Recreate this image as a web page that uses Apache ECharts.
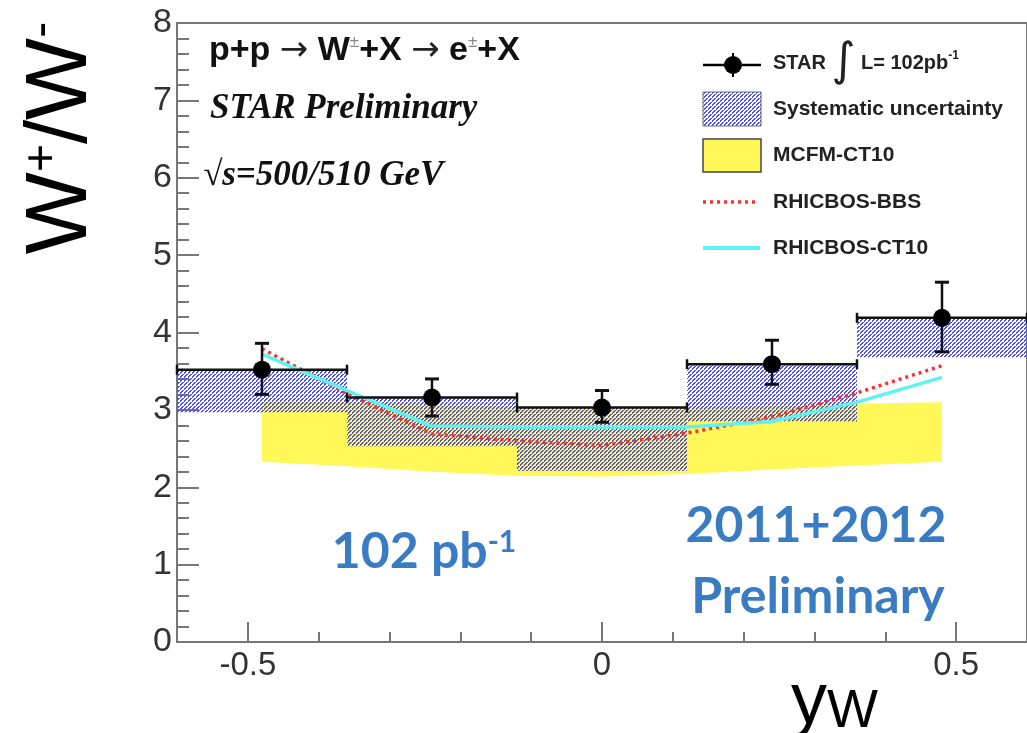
<!DOCTYPE html>
<html><head><meta charset="utf-8">
<script src="https://cdn.jsdelivr.net/npm/echarts@6/dist/echarts.min.js"></script>
<style>html,body{margin:0;padding:0;background:#fff}#c{width:1027px;height:733px}</style>
</head><body><div id="c"></div>
<script>
// ---- data ----
const binLow = [-0.6, -0.36, -0.12, 0.12, 0.36];
const binHigh = [-0.36, -0.12, 0.12, 0.36, 0.6];
const binCenter = [-0.48, -0.24, 0, 0.24, 0.48];
const ratio = [3.52, 3.16, 3.03, 3.59, 4.19];
const statUp = [3.86, 3.40, 3.25, 3.90, 4.65];
const statDown = [3.20, 2.92, 2.84, 3.33, 3.75];
const sysLow = [2.97, 2.53, 2.21, 2.85, 3.68];

const modelX = [-0.48, -0.36, -0.24, -0.12, 0, 0.12, 0.24, 0.36, 0.48];
const mcfmLow = [2.33, 2.27, 2.20, 2.15, 2.14, 2.17, 2.23, 2.28, 2.33];
const mcfmHigh = [3.11, 3.10, 3.07, 3.04, 3.02, 3.03, 3.05, 3.08, 3.10];
const rhicbosBBS = [3.79, 3.21, 2.69, 2.60, 2.54, 2.70, 2.91, 3.22, 3.57];
const rhicbosCT10 = [3.72, 3.25, 2.79, 2.78, 2.78, 2.78, 2.85, 3.10, 3.42];

const xMajorTicks = [-0.5, 0, 0.5];
const xMinorTicks = [-0.4, -0.3, -0.2, -0.1, 0.1, 0.2, 0.3, 0.4];

// ---- hatch pattern ----
function makePattern() {
  const c = document.createElement('canvas');
  c.width = 4; c.height = 4;
  const g = c.getContext('2d');
  g.fillStyle = 'rgb(85,85,228)';
  const px = [[0,0],[1,0],[0,1],[2,2],[3,2],[2,3],[1,3]];
  px.forEach(p => g.fillRect(p[0], p[1], 1, 1));
  return c;
}
const hatch = { image: makePattern(), repeat: 'repeat' };

const chart = echarts.init(document.getElementById('c'), null, { renderer: 'canvas' });
const axisGray = '#777';
const tickFont = 'Liberation Sans';

const option = {
  animation: false,
  backgroundColor: '#fff',
  grid: { left: 177, right: -7, top: 23, bottom: 91, show: true, borderColor: axisGray, borderWidth: 2, backgroundColor: 'transparent' },
  xAxis: [{
    type: 'value', min: -0.6, max: 0.6, position: 'bottom',
    axisLine: { show: true, onZero: false, lineStyle: { color: axisGray, width: 2 } },
    axisTick: { show: true, inside: true, length: 20, customValues: xMajorTicks, lineStyle: { color: axisGray, width: 2 } },
    axisLabel: { show: true, customValues: xMajorTicks, fontSize: 33, color: '#333', fontFamily: tickFont, margin: 7 },
    splitLine: { show: false }
  }, {
    type: 'value', min: -0.6, max: 0.6, position: 'bottom', offset: 0,
    axisLine: { show: false, onZero: false },
    axisTick: { show: true, inside: true, length: 10, customValues: xMinorTicks, lineStyle: { color: axisGray, width: 2 } },
    axisLabel: { show: false },
    splitLine: { show: false }
  }],
  yAxis: {
    type: 'value', min: 0, max: 8, interval: 1, position: 'left',
    axisLine: { show: true, onZero: false, lineStyle: { color: axisGray, width: 2 } },
    axisTick: { show: true, inside: true, length: 22, lineStyle: { color: axisGray, width: 2 } },
    minorTick: { show: true, splitNumber: 5, length: 12, lineStyle: { color: axisGray, width: 2 } },
    axisLabel: { fontSize: 34, color: '#333', fontFamily: tickFont, margin: 5 },
    splitLine: { show: false }, minorSplitLine: { show: false }
  },
  series: [
    { // MCFM-CT10 band
      name: 'MCFM-CT10', type: 'custom', z: 1, clip: true,
      data: modelX.map((x, i) => [x, mcfmLow[i], mcfmHigh[i]]),
      encode: { x: 0, y: [1, 2] },
      renderItem: (params, api) => {
        if (params.dataIndex !== 0) return null;
        const pts = [];
        for (let i = 0; i < modelX.length; i++) pts.push(api.coord([modelX[i], mcfmHigh[i]]));
        for (let i = modelX.length - 1; i >= 0; i--) pts.push(api.coord([modelX[i], mcfmLow[i]]));
        return { type: 'polygon', shape: { points: pts }, style: { fill: '#fff858', stroke: null } };
      }
    },
    { // systematic boxes
      name: 'Systematic uncertainty', type: 'custom', z: 2, clip: true,
      data: binLow.map((l, i) => [l, binHigh[i], ratio[i], sysLow[i]]),
      encode: { x: [0, 1], y: [2, 3] },
      renderItem: (params, api) => {
        const p1 = api.coord([api.value(0), api.value(2)]);
        const p2 = api.coord([api.value(1), api.value(3)]);
        return { type: 'rect', shape: { x: p1[0], y: p1[1], width: p2[0] - p1[0], height: p2[1] - p1[1] }, style: { fill: hatch } };
      }
    },
    {
      name: 'RHICBOS-BBS', type: 'line', z: 3, symbol: 'none',
      data: modelX.map((x, i) => [x, rhicbosBBS[i]]),
      lineStyle: { color: '#ff2e2e', width: 3.5, type: [3, 4], cap: 'butt' }
    },
    {
      name: 'RHICBOS-CT10', type: 'line', z: 3, symbol: 'none',
      data: modelX.map((x, i) => [x, rhicbosCT10[i]]),
      lineStyle: { color: '#5ff2f2', width: 3.5 }
    },
    { // STAR points
      name: 'STAR', type: 'custom', z: 5, clip: false,
      data: binLow.map((l, i) => [l, binHigh[i], ratio[i], statUp[i], statDown[i], binCenter[i]]),
      encode: { x: [0, 1, 5], y: [2, 3, 4] },
      renderItem: (params, api) => {
        const lo = api.coord([api.value(0), api.value(2)]);
        const hi = api.coord([api.value(1), api.value(2)]);
        const c = api.coord([api.value(5), api.value(2)]);
        const up = api.coord([api.value(5), api.value(3)]);
        const dn = api.coord([api.value(5), api.value(4)]);
        const st = { stroke: '#111', lineWidth: 2.5 };
        const kids = [
          { type: 'line', shape: { x1: lo[0], y1: lo[1], x2: hi[0], y2: hi[1] }, style: st },
          { type: 'line', shape: { x1: lo[0], y1: lo[1] - 5, x2: lo[0], y2: lo[1] + 5 }, style: st },
          { type: 'line', shape: { x1: hi[0], y1: hi[1] - 5, x2: hi[0], y2: hi[1] + 5 }, style: st },
          { type: 'line', shape: { x1: c[0], y1: up[1], x2: c[0], y2: dn[1] }, style: st },
          { type: 'line', shape: { x1: c[0] - 7, y1: up[1], x2: c[0] + 7, y2: up[1] }, style: { stroke: '#111', lineWidth: 3 } },
          { type: 'line', shape: { x1: c[0] - 7, y1: dn[1], x2: c[0] + 7, y2: dn[1] }, style: { stroke: '#111', lineWidth: 3 } },
          { type: 'circle', shape: { cx: c[0], cy: c[1], r: 9 }, style: { fill: '#000' } }
        ];
        return { type: 'group', children: kids };
      }
    }
  ],
  graphic: [
    // y axis title
    { type: 'text', x: 62, y: 138, rotation: Math.PI / 2,
      style: { text: '{w|W}{s|+}{w|/W}{s|-}', align: 'center', verticalAlign: 'middle',
        rich: { w: { fontSize: 87, fontFamily: 'Liberation Sans', fill: '#000' },
                s: { fontSize: 48, fontFamily: 'Liberation Sans', fill: '#000', verticalAlign: 'top' } } } },
    // x axis title
    { type: 'text', x: 791, y: 703,
      style: { text: '{y|y}{w|W}', align: 'left', verticalAlign: 'middle',
        rich: { y: { fontSize: 72, fontFamily: 'Liberation Sans', fill: '#000' },
                w: { fontSize: 54, fontFamily: 'Liberation Sans', fill: '#000', verticalAlign: 'bottom' } } } },
    // process label
    { type: 'text', x: 209, y: 51,
      style: { text: '{b|p+p }{a|→}{b| W}{s|±}{b|+X }{a|→}{b| e}{s|±}{b|+X}', align: 'left', verticalAlign: 'middle',
        rich: { b: { fontSize: 34, fontWeight: 'bold', fontFamily: 'Liberation Sans', fill: '#111' },
                a: { fontSize: 34, fontFamily: 'DejaVu Sans', fill: '#222' },
                s: { fontSize: 17, fontFamily: 'Liberation Sans', fill: '#888', verticalAlign: 'top' } } } },
    { type: 'text', x: 210, y: 109,
      style: { text: 'STAR Preliminary', align: 'left', verticalAlign: 'middle', font: 'italic bold 35px "Liberation Serif"', fill: '#111' } },
    { type: 'text', x: 203, y: 176,
      style: { text: '√s=500/510 GeV', align: 'left', verticalAlign: 'middle', font: 'italic bold 35px "Liberation Serif"', fill: '#111' } },
    // blue annotations
    { type: 'text', x: 424, y: 552,
      style: { text: '{m|102 pb}{s|-1}', align: 'center', verticalAlign: 'middle',
        rich: { m: { fontSize: 50, fontWeight: 'bold', fontFamily: 'Lato', fill: '#3a7cc4' },
                s: { fontSize: 30, fontWeight: 'bold', fontFamily: 'Lato', fill: '#3a7cc4', verticalAlign: 'top' } } } },
    { type: 'text', x: 816, y: 526,
      style: { text: '2011+2012', align: 'center', verticalAlign: 'middle', font: 'bold 50px Lato', fill: '#3a7cc4' } },
    { type: 'text', x: 818, y: 597,
      style: { text: 'Preliminary', align: 'center', verticalAlign: 'middle', font: 'bold 50px Lato', fill: '#3a7cc4' } },
    // legend
    { type: 'line', shape: { x1: 703, y1: 65, x2: 761, y2: 65 }, style: { stroke: '#000', lineWidth: 2.5 } },
    { type: 'line', shape: { x1: 733, y1: 53, x2: 733, y2: 77 }, style: { stroke: '#000', lineWidth: 2 } },
    { type: 'circle', shape: { cx: 733, cy: 65, r: 9 }, style: { fill: '#000' } },
    { type: 'text', x: 773, y: 63,
      style: { text: '{t|STAR }{i|∫}{t| L= 102pb}{s|-1}', align: 'left', verticalAlign: 'middle',
        rich: { t: { fontSize: 20, fontWeight: 'bold', fontFamily: 'Liberation Sans', fill: '#222' },
                i: { fontSize: 46, fontFamily: 'DejaVu Sans', fill: '#222' },
                s: { fontSize: 12, fontWeight: 'bold', fontFamily: 'Liberation Sans', fill: '#222', verticalAlign: 'top', padding: [10, 0, 0, 0] } } } },
    { type: 'rect', shape: { x: 703, y: 92, width: 58, height: 34 }, style: { fill: hatch, stroke: '#666', lineWidth: 1 } },
    { type: 'text', x: 773, y: 109, style: { text: 'Systematic uncertainty', align: 'left', verticalAlign: 'middle', font: 'bold 21px "Liberation Sans"', fill: '#222' } },
    { type: 'rect', shape: { x: 703, y: 139, width: 58, height: 33 }, style: { fill: '#fff858', stroke: '#444', lineWidth: 1.5 } },
    { type: 'text', x: 773, y: 155, style: { text: 'MCFM-CT10', align: 'left', verticalAlign: 'middle', font: 'bold 21px "Liberation Sans"', fill: '#222' } },
    { type: 'line', shape: { x1: 703, y1: 202, x2: 758, y2: 202 }, style: { stroke: '#ff2e2e', lineWidth: 3.5, lineDash: [3, 4] } },
    { type: 'text', x: 773, y: 202, style: { text: 'RHICBOS-BBS', align: 'left', verticalAlign: 'middle', font: 'bold 21px "Liberation Sans"', fill: '#222' } },
    { type: 'line', shape: { x1: 703, y1: 248, x2: 760, y2: 248 }, style: { stroke: '#5ff2f2', lineWidth: 4 } },
    { type: 'text', x: 773, y: 248, style: { text: 'RHICBOS-CT10', align: 'left', verticalAlign: 'middle', font: 'bold 21px "Liberation Sans"', fill: '#222' } }
  ]
};
chart.setOption(option);
</script>
</body></html>
